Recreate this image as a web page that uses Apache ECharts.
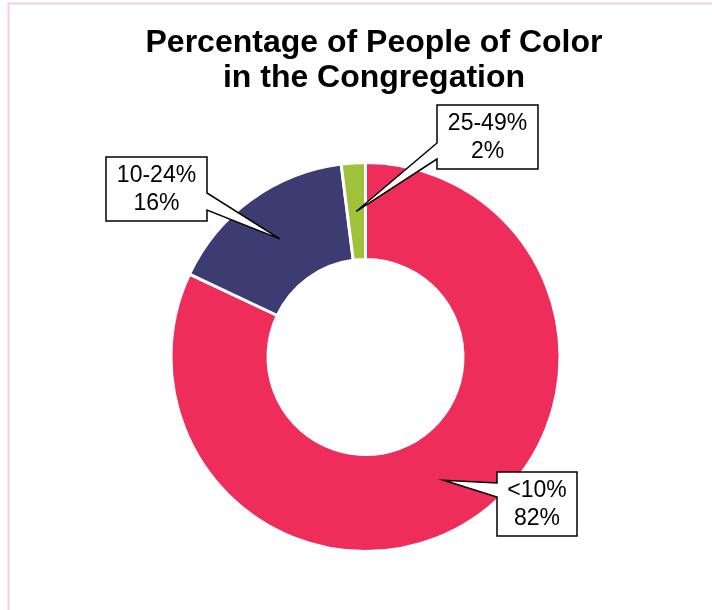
<!DOCTYPE html>
<html>
<head>
<meta charset="utf-8">
<script src="https://cdn.jsdelivr.net/npm/echarts@6/dist/echarts.min.js"></script>
<style>
  html, body { margin: 0; padding: 0; background: #ffffff; }
  #chart { width: 712px; height: 610px; }
</style>
</head>
<body>
<div id="chart"></div>
<script>
// Share of congregation members who are people of color, by band
const categories = ['<10%', '10-24%', '25-49%'];
const shares = [82, 16, 2];
const sliceColors = ['#ee2d5b', '#3c3b72', '#9fc23a'];
const titleLines = ['Percentage of People of Color', 'in the Congregation'];

const FONT = '"Liberation Sans", Arial, Helvetica, sans-serif';
const CENTER = [365.5, 357];
const R_IN = 97.5, R_OUT = 194.5;
const BORDER = 3;

// Callout boxes: box rectangle, which edge the pointer leaves from, and the pointer base span
const callouts = [
  { box: [497, 472, 577, 536], side: 'left',  base: [483, 497] },
  { box: [106, 157, 207, 221], side: 'right', base: [193, 210] },
  { box: [437, 105, 538, 169], side: 'left',  base: [143, 159] }
];

const chart = echarts.init(document.getElementById('chart'), null, { renderer: 'canvas' });

// Pointer tip: middle of the ring at each slice's mid-angle (clockwise from 12 o'clock)
function tipPoint(index) {
  const total = shares.reduce((a, b) => a + b, 0);
  let before = 0;
  for (let i = 0; i < index; i++) before += shares[i];
  const frac = (before + shares[index] / 2) / total;
  const theta = frac * 2 * Math.PI;
  const r = (R_IN + R_OUT) / 2;
  return [CENTER[0] + r * Math.sin(theta), CENTER[1] - r * Math.cos(theta)];
}

function calloutShape(c, tip) {
  const [x0, y0, x1, y1] = c.box;
  const [a, b] = c.base;
  if (c.side === 'right') {
    return [[x0, y0], [x1, y0], [x1, a], tip, [x1, b], [x1, y1], [x0, y1]];
  }
  return [[x0, y0], [x1, y0], [x1, y1], [x0, y1], [x0, b], tip, [x0, a]];
}

const graphics = [
  {
    type: 'rect',
    shape: { x: 8.5, y: 3.5, width: 760, height: 700 },
    style: { fill: null, stroke: '#f8cedb', lineWidth: 2 },
    silent: true,
    z: 0
  }
];

categories.forEach((name, i) => {
  const c = callouts[i];
  const tip = tipPoint(i);
  graphics.push({
    type: 'polygon',
    shape: { points: calloutShape(c, tip) },
    style: { fill: '#ffffff', stroke: '#000000', lineWidth: 1.5, lineJoin: 'miter' },
    z: 10
  });
  graphics.push({
    type: 'text',
    x: (c.box[0] + c.box[2]) / 2,
    y: (c.box[1] + c.box[3]) / 2 + 1,
    style: {
      text: name + '\n' + shares[i] + '%',
      font: '23px ' + FONT,
      fill: '#000000',
      align: 'center',
      verticalAlign: 'middle',
      lineHeight: 28
    },
    z: 11
  });
});

chart.setOption({
  animation: false,
  backgroundColor: '#ffffff',
  title: {
    text: titleLines.join('\n'),
    left: 369,
    top: 21,
    textAlign: 'center',
    textStyle: {
      fontFamily: FONT,
      fontSize: 32,
      fontWeight: 'bold',
      lineHeight: 35,
      color: '#000000'
    }
  },
  series: [
    {
      type: 'pie',
      center: CENTER,
      radius: [R_IN, R_OUT],
      startAngle: 90,
      clockwise: true,
      avoidLabelOverlap: false,
      label: { show: false },
      labelLine: { show: false },
      emphasis: { disabled: true },
      itemStyle: { borderColor: '#ffffff', borderWidth: BORDER },
      data: categories.map((name, i) => ({
        name: name,
        value: shares[i],
        itemStyle: { color: sliceColors[i] }
      }))
    }
  ],
  graphic: graphics
});
</script>
</body>
</html>
